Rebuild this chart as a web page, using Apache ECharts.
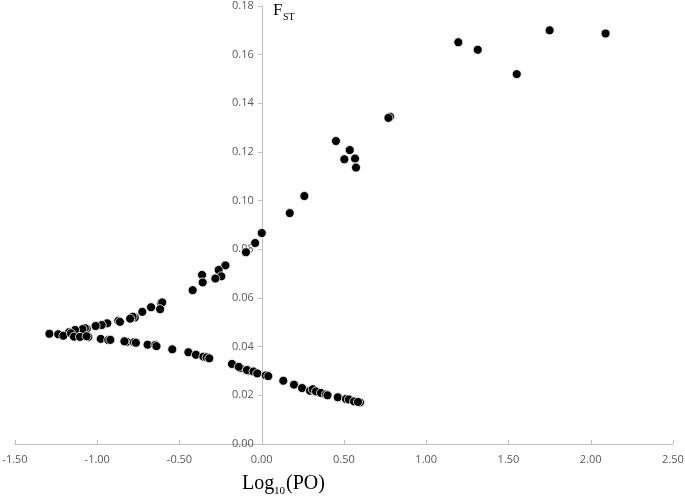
<!DOCTYPE html>
<html>
<head>
<meta charset="utf-8">
<script src="https://cdn.jsdelivr.net/npm/echarts@6/dist/echarts.min.js"></script>
<style>html,body{margin:0;padding:0;background:#fff;}#c{width:685px;height:499px;}</style>
</head>
<body>
<div id="c"></div>
<script>
// Log10(PO) values
const logPO = [
  2.09, 1.75, 1.55, 1.313, 1.195, 0.78, 0.77, 0.451, 0.535, 0.502, 0.567, 0.573, 0.259,
  0.17, 0.0, -0.04, -0.096, -0.221, -0.262, -0.246, -0.282, -0.363, -0.359, -0.42,
  -0.612, -0.605, -0.618, -0.673, -0.726, -0.772, -0.785, -0.80, -0.872, -0.862, -0.939, -0.973, -1.01,
  -1.064, -1.075, -1.09, -1.135, -1.172,
  -1.291, -1.237, -1.206, -1.16, -1.141, -1.105, -1.054, -1.065, -0.979, -0.933, -0.92,
  -0.821, -0.835, -0.777, -0.765, -0.694, -0.647, -0.64, -0.544, -0.446, -0.4, -0.355, -0.335, -0.319,
  -0.181, -0.128, -0.14, -0.077, -0.09, -0.05, -0.027, 0.024, 0.04, 0.131, 0.196, 0.245,
  0.293, 0.31, 0.344, 0.33, 0.36, 0.39, 0.40, 0.462, 0.512, 0.53, 0.561, 0.597, 0.585
];
// FST values
const fst = [
  0.1687, 0.170, 0.152, 0.162, 0.1651, 0.1345, 0.134, 0.1245, 0.1208, 0.117, 0.1173, 0.1136, 0.1019,
  0.0949, 0.0867, 0.0826, 0.0788, 0.0734, 0.0715, 0.0689, 0.0680, 0.0695, 0.0664, 0.0632,
  0.0578, 0.0582, 0.0554, 0.0562, 0.0543, 0.0520, 0.0523, 0.0515, 0.0506, 0.0502, 0.0496, 0.0489, 0.0485,
  0.0474, 0.0476, 0.0472, 0.0469, 0.0459,
  0.0453, 0.0451, 0.0445, 0.0455, 0.0441, 0.044, 0.044, 0.0443, 0.0432, 0.0427, 0.0428,
  0.042, 0.0422, 0.0418, 0.0416, 0.0408, 0.0407, 0.0402, 0.0389, 0.0377, 0.0367, 0.0359, 0.0356, 0.0352,
  0.0329, 0.0312, 0.0317, 0.0301, 0.0304, 0.0298, 0.029, 0.0282, 0.0279, 0.026, 0.0244, 0.023,
  0.0219, 0.0225, 0.0212, 0.0216, 0.0210, 0.0203, 0.0200, 0.0192, 0.0185, 0.0183, 0.0175, 0.0171, 0.0173
];
const xTicks = ['-1.50','-1.00','-0.50','0.00','0.50','1.00','1.50','2.00','2.50'];

const points = logPO.map((x, i) => [x, fst[i]]);
const chart = echarts.init(document.getElementById('c'), null, {renderer: 'canvas'});
const labelFont = {color: '#595959', fontSize: 11, fontFamily: 'Open Sans, Liberation Sans, sans-serif'};
const gridLeft = 15, gridRight = 12, xMin = -1.5, xMax = 2.5;
const plotW = 685 - gridLeft - gridRight;
const yAxisOffset = -plotW * (0 - xMin) / (xMax - xMin);
chart.setOption({
  animation: false,
  backgroundColor: '#ffffff',
  grid: {left: gridLeft, right: gridRight, top: 6, bottom: 55, containLabel: false, outerBoundsMode: 'none'},
  xAxis: {
    type: 'value', min: xMin, max: xMax, interval: 0.5,
    axisLine: {show: true, onZero: false, lineStyle: {color: '#bfbfbf', width: 1}},
    axisTick: {show: true, inside: true, length: 4, lineStyle: {color: '#bfbfbf'}},
    axisLabel: Object.assign({margin: 10, formatter: v => v.toFixed(2)}, labelFont),
    splitLine: {show: false}
  },
  yAxis: {
    type: 'value', min: 0, max: 0.18, interval: 0.02,
    position: 'left', offset: yAxisOffset,
    axisLine: {show: true, onZero: false, lineStyle: {color: '#bfbfbf', width: 1}},
    axisTick: {show: true, inside: false, length: 4, lineStyle: {color: '#bfbfbf'}},
    axisLabel: Object.assign({margin: 8, formatter: v => v.toFixed(2)}, labelFont),
    splitLine: {show: false}
  },
  series: [{
    type: 'scatter',
    data: points,
    symbol: 'circle',
    symbolSize: 9,
    itemStyle: {color: '#000000', borderColor: '#ffffff', borderWidth: 0.8, opacity: 1}
  }],
  graphic: [
    {type: 'text', left: 273, top: 2, style: {text: 'F', font: '17px "Liberation Serif", serif', fill: '#000'}},
    {type: 'text', left: 283, top: 12, style: {text: 'ST', font: '10px "Liberation Serif", serif', fill: '#000'}},
    {type: 'text', left: 242, top: 474, style: {text: 'Log', font: '20px "Liberation Serif", serif', fill: '#000'}},
    {type: 'text', left: 274, top: 486, style: {text: '10', font: '11px "Liberation Serif", serif', fill: '#000'}},
    {type: 'text', left: 286, top: 474, style: {text: '(PO)', font: '20px "Liberation Serif", serif', fill: '#000'}}
  ]
});
</script>
</body>
</html>
